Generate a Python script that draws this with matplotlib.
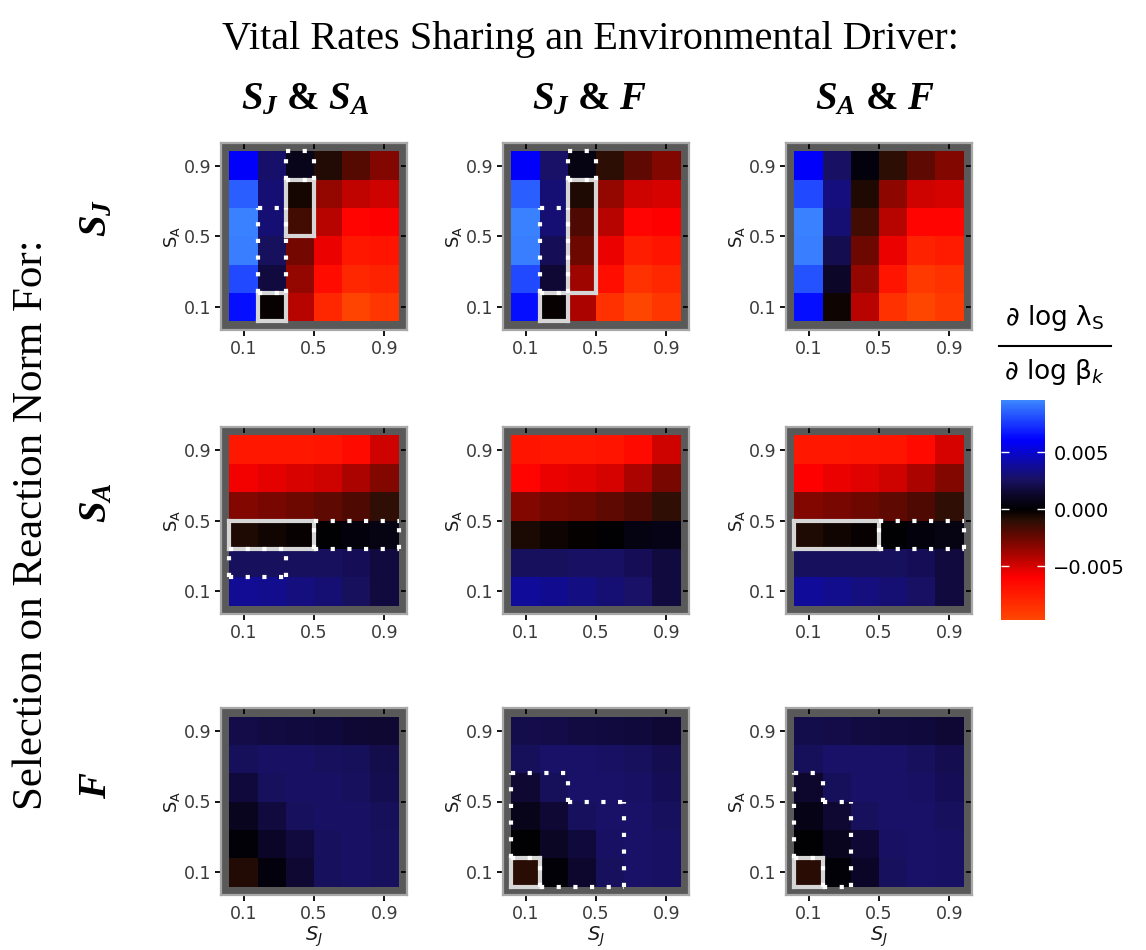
import numpy as np
import matplotlib
matplotlib.use("Agg")
import matplotlib.pyplot as plt
import matplotlib.lines as mlines
from matplotlib.colors import LinearSegmentedColormap, Normalize

plt.rcParams['mathtext.fontset'] = 'custom'
plt.rcParams['mathtext.it'] = 'Liberation Serif:italic:bold'
plt.rcParams['mathtext.rm'] = 'Liberation Serif:bold'
plt.rcParams['mathtext.bf'] = 'Liberation Serif:bold'
plt.rcParams['font.family'] = ['DejaVu Sans']

# ---------------- data ----------------
grid_vals = [0.1, 0.26, 0.42, 0.58, 0.74, 0.9]   # S_J (x) and S_A (y) grid
tick_vals = [0.1, 0.5, 0.9]
tick_labels = ["0.1", "0.5", "0.9"]
col_titles = [r"$S_J$ & $S_A$", r"$S_J$ & $F$", r"$S_A$ & $F$"]
row_titles = [r"$S_J$", r"$S_A$", r"$F$"]
cbar_ticks = [-0.005, 0.0, 0.005]
cbar_ticklabels = ["\u22120.005", "0.000", "0.005"]
vmin, vmax = -0.0097, 0.0096

# rows listed from S_A = 0.9 (top) to 0.1 (bottom); columns S_J = 0.1 .. 0.9
sj_sjsa = [[0.0060, 0.0028, 0.0008, -0.0008, -0.0020, -0.0030],
           [0.0085, 0.0030, -0.0005, -0.0035, -0.0045, -0.0048],
           [0.0094, 0.0030, -0.0015, -0.0043, -0.0062, -0.0060],
           [0.0093, 0.0025, -0.0027, -0.0055, -0.0072, -0.0070],
           [0.0080, 0.0018, -0.0035, -0.0066, -0.0080, -0.0078],
           [0.0065, -0.0002, -0.0043, -0.0080, -0.0095, -0.0088]]
sj_sjf = [[0.0060, 0.0027, 0.0006, -0.0010, -0.0022, -0.0030],
          [0.0085, 0.0030, -0.0007, -0.0035, -0.0048, -0.0050],
          [0.0094, 0.0030, -0.0018, -0.0043, -0.0062, -0.0060],
          [0.0093, 0.0023, -0.0026, -0.0055, -0.0075, -0.0070],
          [0.0080, 0.0016, -0.0037, -0.0067, -0.0085, -0.0080],
          [0.0065, -0.0002, -0.0040, -0.0085, -0.0097, -0.0088]]
sj_saf = [[0.0060, 0.0026, 0.0004, -0.0010, -0.0022, -0.0030],
          [0.0080, 0.0032, -0.0007, -0.0033, -0.0048, -0.0050],
          [0.0094, 0.0030, -0.0015, -0.0043, -0.0062, -0.0062],
          [0.0093, 0.0022, -0.0026, -0.0055, -0.0078, -0.0074],
          [0.0082, 0.0013, -0.0035, -0.0070, -0.0090, -0.0085],
          [0.0065, -0.0003, -0.0043, -0.0085, -0.0097, -0.0090]]
sa_sjsa = [[-0.0072, -0.0072, -0.0072, -0.0070, -0.0065, -0.0048],
           [-0.0057, -0.0054, -0.0051, -0.0048, -0.0040, -0.0030],
           [-0.0030, -0.0028, -0.0026, -0.0022, -0.0018, -0.0011],
           [-0.0007, -0.0004, -0.0002, 0.0001, 0.0004, 0.0006],
           [0.0025, 0.0025, 0.0025, 0.0025, 0.0023, 0.0018],
           [0.0037, 0.0035, 0.0032, 0.0030, 0.0025, 0.0018]]
sa_sjf = [[-0.0070, -0.0072, -0.0072, -0.0070, -0.0065, -0.0048],
          [-0.0062, -0.0055, -0.0053, -0.0050, -0.0040, -0.0028],
          [-0.0030, -0.0027, -0.0026, -0.0022, -0.0018, -0.0011],
          [-0.0006, -0.0003, -0.0001, 0.0001, 0.0005, 0.0007],
          [0.0025, 0.0025, 0.0026, 0.0026, 0.0023, 0.0018],
          [0.0038, 0.0036, 0.0033, 0.0030, 0.0027, 0.0018]]
sa_saf = [[-0.0072, -0.0072, -0.0071, -0.0070, -0.0064, -0.0050],
          [-0.0060, -0.0055, -0.0052, -0.0048, -0.0040, -0.0030],
          [-0.0030, -0.0028, -0.0026, -0.0022, -0.0018, -0.0011],
          [-0.0007, -0.0004, -0.0002, 0.0001, 0.0004, 0.0006],
          [0.0025, 0.0025, 0.0025, 0.0025, 0.0023, 0.0018],
          [0.0038, 0.0035, 0.0032, 0.0030, 0.0026, 0.0018]]
f_sjsa = [[0.0020, 0.0019, 0.0018, 0.0017, 0.0016, 0.0015],
          [0.0024, 0.0026, 0.0026, 0.0025, 0.0024, 0.0021],
          [0.0017, 0.0025, 0.0026, 0.0026, 0.0025, 0.0022],
          [0.0010, 0.0018, 0.0025, 0.0026, 0.0026, 0.0024],
          [0.0002, 0.0012, 0.0018, 0.0025, 0.0026, 0.0025],
          [-0.0008, 0.0004, 0.0015, 0.0025, 0.0026, 0.0025]]
f_sjf = [[0.0021, 0.0020, 0.0019, 0.0018, 0.0017, 0.0016],
         [0.0024, 0.0027, 0.0027, 0.0026, 0.0025, 0.0022],
         [0.0015, 0.0024, 0.0027, 0.0027, 0.0026, 0.0023],
         [0.0008, 0.0016, 0.0025, 0.0027, 0.0027, 0.0025],
         [0.0001, 0.0011, 0.0017, 0.0026, 0.0027, 0.0026],
         [-0.0009, 0.0002, 0.0014, 0.0025, 0.0027, 0.0026]]
f_saf = [[0.0021, 0.0020, 0.0019, 0.0018, 0.0017, 0.0016],
         [0.0024, 0.0027, 0.0027, 0.0027, 0.0025, 0.0022],
         [0.0014, 0.0024, 0.0027, 0.0027, 0.0026, 0.0023],
         [0.0007, 0.0015, 0.0025, 0.0027, 0.0027, 0.0025],
         [0.0001, 0.0010, 0.0016, 0.0026, 0.0027, 0.0026],
         [-0.0009, 0.0002, 0.0012, 0.0025, 0.0027, 0.0026]]

panels = [[sj_sjsa, sj_sjf, sj_saf],
          [sa_sjsa, sa_sjf, sa_saf],
          [f_sjsa, f_sjf, f_saf]]

# highlighted cells as (column index, row index), row 0 = S_A 0.1
solid_cells = {
    (0, 0): [(1, 0), (2, 3), (2, 4)],
    (0, 1): [(1, 0), (2, 1), (2, 2), (2, 3), (2, 4)],
    (1, 0): [(0, 2), (1, 2), (2, 2)],
    (1, 2): [(0, 2), (1, 2), (2, 2)],
    (2, 1): [(0, 0)],
    (2, 2): [(0, 0)],
}
dotted_cells = {
    (0, 0): [(1, 1), (1, 2), (1, 3), (2, 5)],
    (0, 1): [(1, 1), (1, 2), (1, 3), (2, 5)],
    (1, 0): [(0, 1), (1, 1), (3, 2), (4, 2), (5, 2)],
    (1, 2): [(3, 2), (4, 2), (5, 2)],
    (2, 1): [(0, 1), (0, 2), (0, 3), (1, 0), (1, 1), (1, 2), (1, 3),
             (2, 0), (2, 1), (2, 2), (3, 0), (3, 1), (3, 2)],
    (2, 2): [(0, 1), (0, 2), (0, 3), (1, 0), (1, 1), (1, 2)],
}

# ---------------- style ----------------
cmap = LinearSegmentedColormap.from_list("rb", [
    (0.000, (255/255, 70/255, 0)),
    (0.192, (1.0, 0.0, 0.0)),
    (0.380, (100/255, 8/255, 0)),
    (0.450, (45/255, 14/255, 5/255)),
    (0.5026, (0.0, 0.0, 0.0)),
    (0.575, (13/255, 7/255, 45/255)),
    (0.640, (24/255, 17/255, 100/255)),
    (0.820, (0.0, 0.0, 1.0)),
    (1.000, (60/255, 135/255, 255/255)),
])
norm = Normalize(vmin=vmin, vmax=vmax)

W, H = 1146, 950
fig = plt.figure(figsize=(W / 100, H / 100), dpi=100)


def fx(x):
    return x / W


def fy(y):
    return 1 - y / H


col_left = [221, 503, 786]
row_top = [143, 427, 708]
pw, ph = 186, 187

step = grid_vals[1] - grid_vals[0]
edges = [grid_vals[0] - step / 2] + [v + step / 2 for v in grid_vals]
span = edges[-1] - edges[0]
lim = (edges[0] - 0.05 * span, edges[-1] + 0.05 * span)


def outline(ax, cells, **kw):
    s = set(cells)
    hseg, vseg = {}, {}
    for (c, r) in s:
        if (c, r - 1) not in s:
            hseg.setdefault(r, []).append(c)
        if (c, r + 1) not in s:
            hseg.setdefault(r + 1, []).append(c)
        if (c - 1, r) not in s:
            vseg.setdefault(c, []).append(r)
        if (c + 1, r) not in s:
            vseg.setdefault(c + 1, []).append(r)

    def runs(idx):
        idx = sorted(set(idx))
        out = []
        start = prev = idx[0]
        for i in idx[1:]:
            if i == prev + 1:
                prev = i
            else:
                out.append((start, prev))
                start = prev = i
        out.append((start, prev))
        return out

    for r, cs in hseg.items():
        for a, b in runs(cs):
            ax.plot([edges[a], edges[b + 1]], [edges[r], edges[r]], **kw)
    for c, rs in vseg.items():
        for a, b in runs(rs):
            ax.plot([edges[c], edges[c]], [edges[a], edges[b + 1]], **kw)


mesh = None
for i in range(3):
    for j in range(3):
        ax = fig.add_axes([fx(col_left[j]), fy(row_top[i] + ph), pw / W, ph / H])
        Z = np.array(panels[i][j])[::-1]
        mesh = ax.pcolormesh(edges, edges, Z, cmap=cmap, norm=norm,
                             shading='flat', edgecolors='none')
        ax.set_xlim(lim)
        ax.set_ylim(lim)
        ax.set_facecolor('#595959')
        for sp in ax.spines.values():
            sp.set_color('#a8a8a8')
            sp.set_linewidth(1.6)
        ax.set_xticks(tick_vals)
        ax.set_yticks(tick_vals)
        ax.set_xticklabels(tick_labels)
        ax.set_yticklabels(tick_labels)
        ax.tick_params(axis='both', which='major', direction='out', length=4,
                       width=1.3, color='black', labelsize=12.5,
                       labelcolor='#3a3a3a', top=True, right=True, pad=3)
        for t in ax.xaxis.get_major_ticks():
            t.tick2line.set_marker(mlines.TICKDOWN)
        for t in ax.yaxis.get_major_ticks():
            t.tick2line.set_marker(mlines.TICKLEFT)
        ax.set_ylabel(r"$\mathregular{S_A}$", fontsize=13, color='#1a1a1a',
                      math_fontfamily='dejavusans', labelpad=1)
        if i == 2:
            ax.set_xlabel(r"$S_J$", fontsize=14, color='#1a1a1a',
                          math_fontfamily='dejavusans', labelpad=1)
        if (i, j) in solid_cells:
            outline(ax, solid_cells[(i, j)], color='#d6d6d6', lw=3.0,
                    solid_capstyle='projecting', zorder=5)
        if (i, j) in dotted_cells:
            outline(ax, dotted_cells[(i, j)], color='white', lw=3.0,
                    linestyle=(0, (1, 3)), dash_capstyle='butt', zorder=6)

# titles
fig.text(fx(590), fy(40), "Vital Rates Sharing an Environmental Driver:",
         ha='center', va='center', fontsize=29, family='Liberation Serif')
col_title_x = [305, 590, 875]
for j in range(3):
    fig.text(fx(col_title_x[j]), fy(100), col_titles[j], ha='center', va='center',
             fontsize=28, family='Liberation Serif', weight='bold',
             math_fontfamily='custom')
fig.text(fx(32), fy(525), "Selection on Reaction Norm For:", rotation=90,
         ha='center', va='center', fontsize=31, family='Liberation Serif')
row_title_y = [218, 503, 785]
for i in range(3):
    fig.text(fx(97), fy(row_title_y[i]), row_titles[i], rotation=90,
             ha='center', va='center', fontsize=28, family='Liberation Serif',
             weight='bold', math_fontfamily='custom')

# colorbar
cax = fig.add_axes([fx(1001), fy(620), 44 / W, 220 / H])
cb = fig.colorbar(mesh, cax=cax, ticks=cbar_ticks)
cb.outline.set_visible(False)
cb.ax.set_yticklabels(cbar_ticklabels)
cb.ax.tick_params(direction='in', length=6, width=1.0, color='white',
                  labelsize=14, labelcolor='black', left=True, right=True,
                  pad=6)
cb.ax.yaxis.set_ticks_position('both')
cb.ax.tick_params(labelleft=False, labelright=True)

fig.text(fx(1055), fy(318), r"$\partial$ log $\mathrm{\lambda_S}$", ha='center',
         va='center', fontsize=19, math_fontfamily='dejavusans')
fig.add_artist(mlines.Line2D([fx(999), fx(1111)], [fy(346), fy(346)],
                             color='black', lw=1.5))
fig.text(fx(1055), fy(372), r"$\partial$ log $\mathrm{\beta}_k$", ha='center',
         va='center', fontsize=19, math_fontfamily='dejavusans')

fig.savefig("out.png", dpi=100)
